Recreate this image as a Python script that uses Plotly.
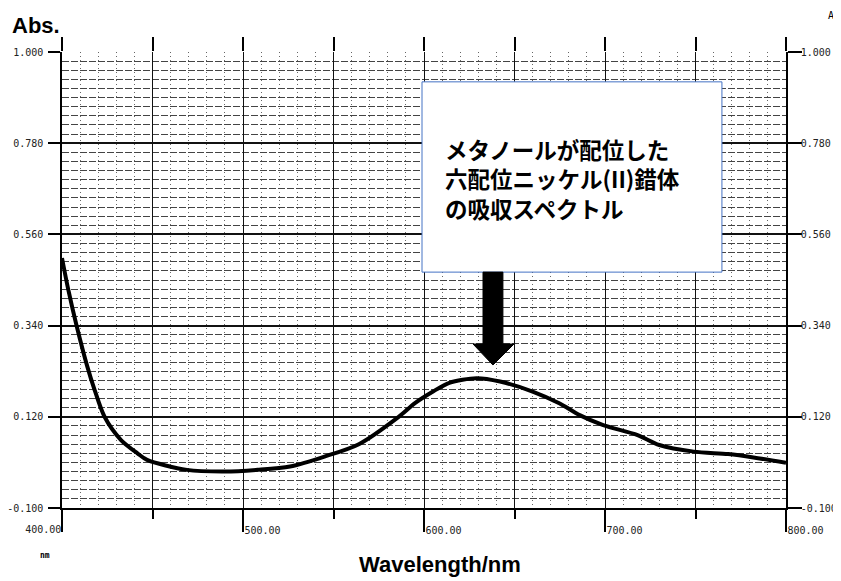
import plotly.graph_objects as go

# ---- data ----
wavelength_nm = [400, 403.5, 408, 414, 418, 423.5, 432.6, 441.7, 447, 469, 490, 508,
                 526, 545, 564, 586, 595, 605, 614, 629, 642, 660, 675, 686, 699,
                 718, 730, 749, 768, 782, 800]
absorbance = [0.503, 0.426, 0.341, 0.241, 0.185, 0.120, 0.064, 0.032, 0.016, -0.008,
              -0.012, -0.008, 0.000, 0.024, 0.054, 0.120, 0.153, 0.181, 0.202, 0.213,
              0.205, 0.181, 0.152, 0.124, 0.100, 0.076, 0.052, 0.036, 0.030, 0.022, 0.009]

x_tick_vals = [400, 500, 600, 700, 800]
x_tick_text = ["", "500.00", "600.00", "700.00", "800.00"]
y_tick_vals = [-0.1, 0.12, 0.34, 0.56, 0.78, 1.0]
y_tick_text = ["-0.100", "0.120", "0.340", "0.560", "0.780", "1.000"]

callout_text = "メタノールが配位した<br>六配位ニッケル(II)錯体<br>の吸収スペクトル"

X_RANGE = [400, 800]
Y_RANGE = [-0.1, 1.0]
TICK_FONT = dict(family="DejaVu Sans Mono", size=10, color="#222")

fig = go.Figure()
fig.add_trace(go.Scatter(x=wavelength_nm, y=absorbance, mode="lines",
                         line=dict(color="black", width=4, shape="spline", smoothing=0.8),
                         hoverinfo="skip", showlegend=False))
# invisible helpers so overlay axes get drawn
fig.add_trace(go.Scatter(x=[None], y=[None], xaxis="x2", yaxis="y2", showlegend=False, hoverinfo="skip"))
fig.add_trace(go.Scatter(x=[None], y=[None], xaxis="x3", yaxis="y", showlegend=False, hoverinfo="skip"))

fig.update_layout(
    width=833, height=573,
    margin=dict(l=54, r=55, t=44, b=73, autoexpand=False),
    paper_bgcolor="white", plot_bgcolor="white",
    # bottom axis: 100 nm ticks + labels, 100 nm solid grid, 10 nm dotted grid
    xaxis=dict(range=X_RANGE, tickmode="array", tickvals=x_tick_vals, ticktext=x_tick_text,
               ticks="outside", ticklen=22, tickwidth=1.5, tickcolor="black",
               ticklabelposition="outside right", ticklabelstandoff=12,
               tickfont=TICK_FONT, showgrid=True, gridcolor="#111", gridwidth=1,
               minor=dict(tickmode="linear", tick0=400, dtick=10, ticks="", showgrid=True,
                          gridcolor="#666", gridwidth=1, griddash="1px,3px"),
               showline=True, linecolor="black", linewidth=1.5, zeroline=False, automargin=False),
    # top axis: 50 nm ticks and 50 nm solid grid
    xaxis2=dict(range=X_RANGE, overlaying="x", side="top", anchor="y",
                tickmode="linear", tick0=400, dtick=50, ticks="outside", ticklen=14,
                tickwidth=1.5, tickcolor="black", showticklabels=False,
                showgrid=True, gridcolor="#111", gridwidth=1,
                zeroline=False, showline=False, automargin=False),
    # bottom helper: 400.00 label (left of tick) + short 50 nm ticks
    xaxis3=dict(range=X_RANGE, overlaying="x", side="bottom", anchor="y",
                tickmode="array", tickvals=[400], ticktext=["400.00"],
                ticks="outside", ticklen=22, tickwidth=1.5, tickcolor="black",
                ticklabelposition="outside left", ticklabelstandoff=12,
                tickfont=TICK_FONT, showgrid=False, zeroline=False, showline=False,
                minor=dict(tickmode="linear", tick0=400, dtick=50, ticks="outside",
                           ticklen=10, tickwidth=1.5, tickcolor="black", showgrid=False),
                automargin=False),
    yaxis=dict(range=Y_RANGE, tickmode="array", tickvals=y_tick_vals, ticktext=y_tick_text,
               ticks="outside", ticklen=12, tickwidth=1.5, tickcolor="black",
               ticklabelstandoff=3, tickfont=TICK_FONT,
               showgrid=True, gridcolor="#111", gridwidth=1.5,
               minor=dict(tickmode="linear", tick0=-0.1, dtick=0.022, ticks="", showgrid=True,
                          gridcolor="#444", gridwidth=1, griddash="7px,2px"),
               showline=True, linecolor="black", linewidth=1.5, zeroline=False, automargin=False),
    yaxis2=dict(range=Y_RANGE, overlaying="y", side="right", anchor="x",
                tickmode="array", tickvals=y_tick_vals, ticktext=y_tick_text,
                ticks="outside", ticklen=14, tickwidth=1.5, tickcolor="black",
                ticklabelstandoff=-3, tickfont=TICK_FONT, showgrid=False,
                showline=True, linecolor="black", linewidth=1.5, zeroline=False,
                automargin=False),
    shapes=[
        dict(type="rect", xref="x", yref="y", x0=598.9, x1=764.6, y0=0.469, y1=0.928,
             fillcolor="white", line=dict(color="#4472C4", width=1), layer="above"),
        dict(type="path", xref="x", yref="y",
             path="M 632.6 0.469 L 643.6 0.469 L 643.6 0.2955 L 649.7 0.2955 "
                  "L 638.1 0.2449 L 627.1 0.2955 L 632.6 0.2955 Z",
             fillcolor="black", line=dict(color="black", width=1), layer="above"),
    ],
    annotations=[
        dict(text=callout_text, xref="x", yref="y", x=610.5, y=0.695,
             xanchor="left", yanchor="middle", align="left", showarrow=False,
             font=dict(family="Noto Sans CJK JP", size=22.5, color="black", weight="bold")),
        dict(text="<b>Abs.</b>", xref="paper", yref="paper", x=-0.0718, y=1.059,
             xanchor="left", yanchor="middle", showarrow=False,
             font=dict(family="Liberation Sans", size=22, color="black")),
        dict(text="<b>Wavelength/nm</b>", xref="paper", yref="paper", x=0.522, y=-0.123,
             xanchor="center", yanchor="middle", showarrow=False,
             font=dict(family="Liberation Sans", size=22, color="black")),
        dict(text="<b>nm</b>", xref="paper", yref="paper", x=-0.0235, y=-0.105,
             xanchor="center", yanchor="middle", showarrow=False,
             font=dict(family="DejaVu Sans Mono", size=8, color="black")),
        dict(text="A", xref="paper", yref="paper", x=1.062, y=1.081,
             xanchor="center", yanchor="middle", showarrow=False,
             font=dict(family="DejaVu Sans Mono", size=10, color="black")),
    ],
)

fig.write_html("out.html")
